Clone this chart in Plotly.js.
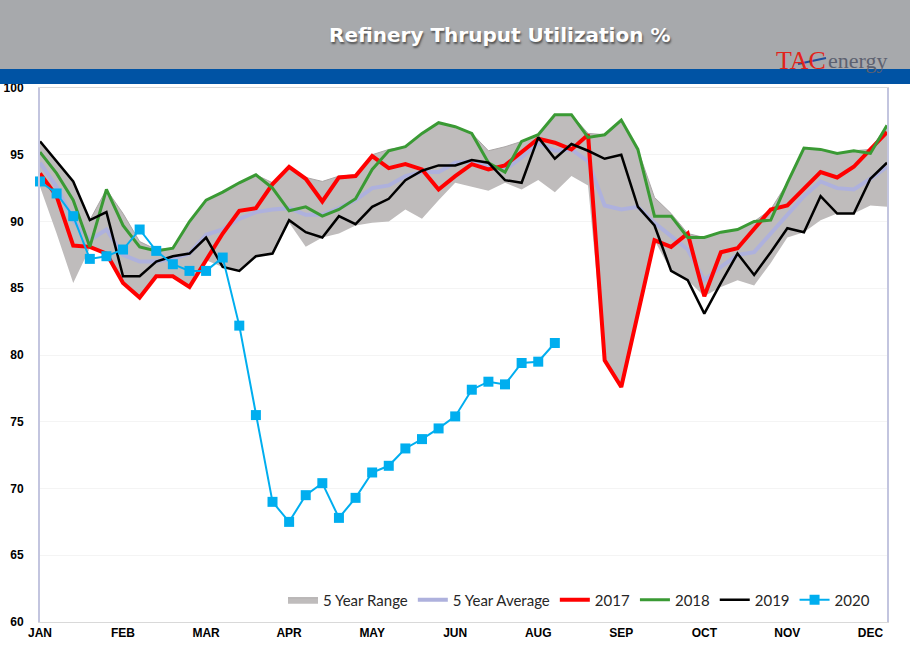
<!DOCTYPE html>
<html>
<head>
<meta charset="utf-8">
<script src="https://cdn.plot.ly/plotly-3.0.1.min.js"></script>
<style>html,body{margin:0;padding:0;background:#fff;}#chart{width:910px;height:659px;}</style>
</head>
<body>
<div id="chart"></div>
<script>
// ---- data ----
var weeks = [1,2,3,4,5,6,7,8,9,10,11,12,13,14,15,16,17,18,19,20,21,22,23,24,25,26,
             27,28,29,30,31,32,33,34,35,36,37,38,39,40,41,42,43,44,45,46,47,48,49,50,51,52];
var monthTickWeeks = [1,6,11,16,21,26,31,36,41,46,51];
var monthLabels = ["JAN","FEB","MAR","APR","MAY","JUN","AUG","SEP","OCT","NOV","DEC"];

var rangeLow = [92.6,89.1,85.4,88.0,87.5,85.4,84.3,85.9,85.9,85.1,87.1,86.6,86.3,87.4,87.6,89.9,
                88.1,88.8,89.1,89.7,89.9,90.0,90.9,90.2,91.6,92.9,92.6,92.3,92.9,92.4,93.1,92.2,
                93.4,92.7,79.6,77.6,83.1,88.6,86.3,85.6,84.4,85.1,85.6,85.2,86.9,88.8,89.2,90.1,
                90.6,90.6,91.2,91.1];
var rangeHigh = [96.0,94.5,93.0,90.1,92.4,90.6,88.5,87.9,88.0,90.0,91.6,92.2,92.9,93.5,92.9,94.1,
                 93.3,93.0,93.4,93.5,95.0,95.4,95.6,96.6,97.4,97.1,96.6,95.3,95.6,96.0,96.5,98.0,
                 98.0,96.6,96.5,97.6,95.4,91.8,90.6,89.1,88.8,89.2,89.4,90.0,90.9,92.9,95.5,95.4,
                 95.1,95.3,95.4,97.2];
var avg5 = [94.4,92.6,90.1,88.6,89.4,87.5,87.0,87.0,87.2,87.6,89.0,89.4,90.2,90.7,90.9,91.0,
            90.5,90.5,91.0,91.6,92.5,92.7,93.4,93.7,93.7,94.4,94.5,94.1,93.9,94.8,95.9,95.3,
            95.4,94.5,91.2,90.9,91.1,89.9,88.9,87.9,85.6,86.6,87.5,87.7,89.1,90.5,91.9,93.0,
            92.5,92.4,93.2,94.1];
var y2017 = [93.6,91.9,88.2,88.1,87.6,85.4,84.3,85.9,85.9,85.1,87.1,89.1,90.8,91.0,92.8,94.1,
             93.2,91.5,93.3,93.4,94.9,94.0,94.3,93.9,92.4,93.4,94.3,93.9,94.2,95.2,96.2,95.9,
             95.4,96.5,79.6,77.6,83.1,88.6,88.1,89.1,84.4,87.7,88.0,89.5,90.9,91.2,92.4,93.7,
             93.3,94.1,95.4,96.7];
var y2018 = [95.2,93.6,91.6,88.1,92.4,89.7,88.1,87.8,88.0,90.0,91.6,92.2,92.9,93.5,92.5,90.8,
             91.1,90.4,90.9,91.7,93.9,95.3,95.6,96.6,97.4,97.1,96.6,94.4,93.7,96.0,96.5,98.0,
             98.0,96.3,96.5,97.6,95.4,90.4,90.4,88.8,88.8,89.2,89.4,90.0,90.1,92.9,95.5,95.4,
             95.1,95.3,95.1,97.2];
var y2019 = [96.0,94.5,93.0,90.1,90.7,85.9,85.9,87.0,87.4,87.6,88.8,86.6,86.3,87.4,87.6,90.1,
             89.2,88.8,90.4,89.8,91.1,91.7,93.1,93.8,94.2,94.2,94.6,94.4,93.1,92.9,96.3,94.7,
             95.8,95.3,94.7,95.0,91.1,89.7,86.3,85.6,83.1,85.4,87.6,86.0,87.7,89.5,89.2,91.9,
             90.6,90.6,93.2,94.4];
var y2020 = [93.0,92.1,90.4,87.2,87.4,87.9,89.4,87.8,86.8,86.3,86.3,87.3,82.2,75.5,69.0,67.5,
             69.5,70.4,67.8,69.3,71.2,71.7,73.0,73.7,74.5,75.4,77.4,78.0,77.8,79.4,79.5,80.9];

// ---- traces ----
var traces = [
  {x: weeks, y: rangeLow, type: 'scatter', mode: 'lines', line: {width: 0, color: 'rgba(0,0,0,0)'},
   showlegend: false, hoverinfo: 'skip'},
  {x: weeks, y: rangeHigh, type: 'scatter', mode: 'lines', name: '5 Year Range', fill: 'tonexty',
   fillcolor: '#bfbcbc', line: {width: 1, color: '#aaa6a6'}},
  {x: weeks, y: avg5, type: 'scatter', mode: 'lines', name: '5 Year Average',
   line: {width: 4, color: '#aeb1dd'}},
  {x: weeks, y: y2017, type: 'scatter', mode: 'lines', name: '2017',
   line: {width: 4, color: '#ff0000'}},
  {x: weeks, y: y2018, type: 'scatter', mode: 'lines', name: '2018',
   line: {width: 3, color: '#3a9a34'}},
  {x: weeks, y: y2019, type: 'scatter', mode: 'lines', name: '2019',
   line: {width: 2.5, color: '#000000'}},
  {x: weeks.slice(0, y2020.length), y: y2020, type: 'scatter', mode: 'lines+markers', name: '2020',
   line: {width: 2, color: '#00aeef'}, marker: {symbol: 'square', size: 10, color: '#00aeef'},
   cliponaxis: false}
];

// plot area: x 40..887, y 88..622
function px(x){ return (x - 40) / 847; }
function py(y){ return (622 - y) / 534; }

var layout = {
  width: 910, height: 659,
  margin: {l: 40, r: 23, t: 88, b: 37, pad: 0},
  paper_bgcolor: '#ffffff', plot_bgcolor: '#ffffff',
  showlegend: true,
  legend: {orientation: 'h', x: px(579), y: py(600), xanchor: 'center', yanchor: 'middle',
           bgcolor: 'rgba(0,0,0,0)', font: {family: 'Lato, Arial, sans-serif', size: 15, color: '#262626'},
           itemwidth: 30, traceorder: 'normal'},
  xaxis: {range: [1, 52], tickmode: 'array', tickvals: monthTickWeeks, ticktext: monthLabels,
          showgrid: false, zeroline: false, showline: true, mirror: true, linecolor: '#d9d9d9', linewidth: 1,
          ticks: '', tickfont: {family: 'Arial, Liberation Sans, sans-serif', size: 12, weight: 'bold', color: '#000'}},
  yaxis: {range: [60, 100], dtick: 5, tick0: 60, showgrid: true, gridcolor: '#f4f4f4', zeroline: false,
          showline: true, mirror: true, linecolor: '#c3c5df', linewidth: 2, ticks: '', ticklabelstandoff: 12,
          tickfont: {family: 'Arial, Liberation Sans, sans-serif', size: 12, weight: 'bold', color: '#000'}},
  shapes: [
    {type: 'rect', xref: 'paper', yref: 'paper', x0: px(0), x1: px(910), y0: py(69), y1: py(0),
     fillcolor: '#a7a9ac', line: {width: 0}, layer: 'above'},
    {type: 'rect', xref: 'paper', yref: 'paper', x0: px(0), x1: px(910), y0: py(84), y1: py(69),
     fillcolor: '#0053a4', line: {width: 0}, layer: 'above'},
    {type: 'line', xref: 'paper', yref: 'paper', x0: px(798), x1: px(826), y0: py(64), y1: py(58),
     line: {color: '#1f4e9c', width: 2}, layer: 'above'}
  ],
  annotations: [
    {xref: 'paper', yref: 'paper', x: px(499), y: py(35), xanchor: 'center', yanchor: 'middle', showarrow: false,
     text: 'Refinery Thruput Utilization %',
     font: {family: 'DejaVu Sans, Arial, sans-serif', size: 20, weight: 'bold', color: '#ffffff',
            shadow: '1px 2px 2px rgba(60,60,60,0.8)'}},
    {xref: 'paper', yref: 'paper', x: px(774), y: py(60), xanchor: 'left', yanchor: 'middle', showarrow: false,
     text: 'TAC', font: {family: 'Liberation Serif, Times New Roman, serif', size: 26, color: '#e2231a'}},
    {xref: 'paper', yref: 'paper', x: px(826), y: py(61), xanchor: 'left', yanchor: 'middle', showarrow: false,
     text: 'energy', font: {family: 'Liberation Serif, Times New Roman, serif', size: 22, color: '#5d6170'}}
  ]
};

Plotly.newPlot('chart', traces, layout, {displayModeBar: false, staticPlot: true});
</script>
</body>
</html>
